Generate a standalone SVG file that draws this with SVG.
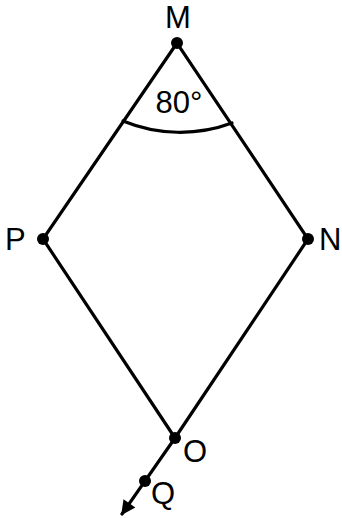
<svg xmlns="http://www.w3.org/2000/svg" width="342" height="518" viewBox="0 0 342 518">
<defs>
<style>
.l{stroke:#000;stroke-width:3.2;fill:none;stroke-linecap:round}
.d{fill:#000}
.t{font-family:"Liberation Sans",Arial,sans-serif;font-size:31px;fill:#000}
</style>
<marker id="ah" viewBox="0 0 10 10" refX="9" refY="5" markerWidth="5" markerHeight="4.5" orient="auto" markerUnits="strokeWidth">
<path d="M0,0 L10,5 L0,10 z" fill="#000"/>
</marker>
</defs>
<rect width="342" height="518" fill="#fff"/>
<g id="connectors">
<path class="l" d="M177,43 L43,239 L175,438 L308,239 Z"/>
<line class="l" x1="175" y1="438" x2="122" y2="514" marker-end="url(#ah)"/>
<path class="l" d="M123,121 A150,150 0 0 0 232,123"/>
</g>
<g id="M"><circle class="d" cx="177" cy="43" r="6"/><text class="t" x="178" y="28" text-anchor="middle">M</text></g>
<g id="angle"><text class="t" x="179" y="113" text-anchor="middle">80°</text></g>
<g id="P"><circle class="d" cx="43" cy="239" r="6"/><text class="t" x="5" y="250">P</text></g>
<g id="N"><circle class="d" cx="308" cy="239" r="6"/><text class="t" x="319" y="250">N</text></g>
<g id="O"><circle class="d" cx="175" cy="438" r="6"/><text class="t" x="183" y="462">O</text></g>
<g id="Q"><circle class="d" cx="145" cy="481" r="6"/><text class="t" x="151" y="504">Q</text></g>
</svg>
